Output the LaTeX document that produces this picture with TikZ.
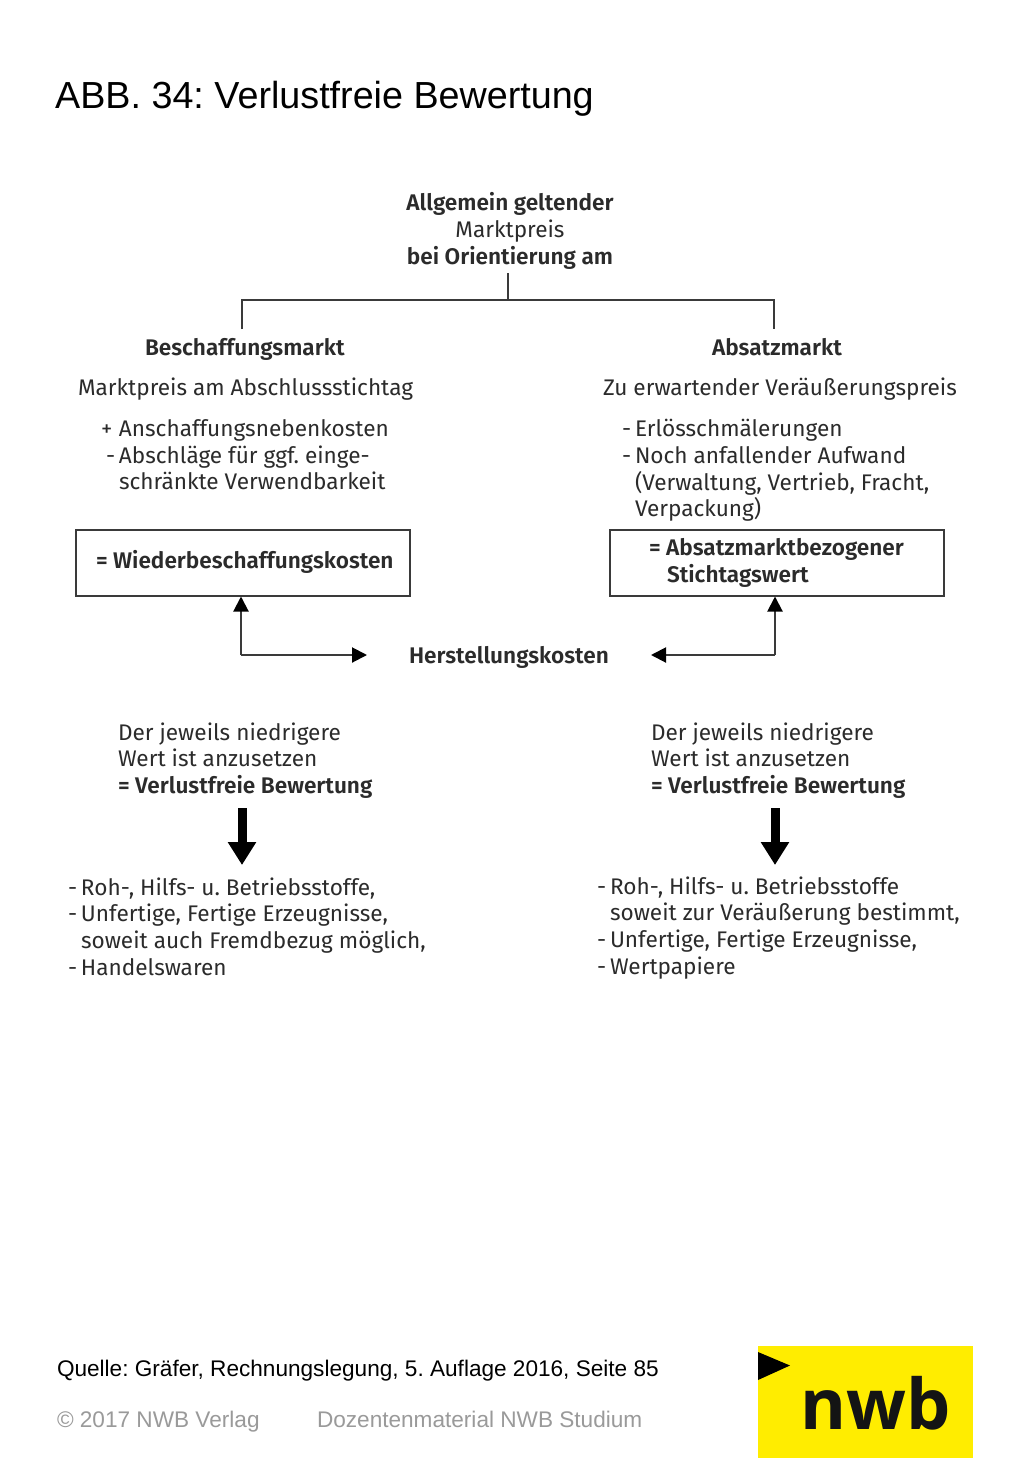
\documentclass[tikz,border=0pt]{standalone}
\usepackage{fontspec}
\setmainfont{Liberation Sans}
\newfontfamily\bodyfont[BoldFont={Fira Sans SemiBold}]{Fira Sans}
\newfontfamily\logofont{Open Sans}
\usetikzlibrary{arrows.meta}
\definecolor{inktext}{HTML}{2B2B2B}
\definecolor{linecol}{HTML}{3A3A3A}
\definecolor{footgrey}{HTML}{9A9A9A}
\definecolor{nwbyellow}{HTML}{FFED00}
\newcommand{\pre}[2]{\makebox[#1pt][l]{#2}}
\frenchspacing
\tikzset{
  x=1pt,y=-1pt,
  body/.style={inner sep=0pt,outer sep=0pt,text=inktext,align=left,anchor=north west,yshift=-3.5pt,
    font=\bodyfont\frenchspacing\fontsize{22.6}{26.7}\selectfont},
  bodyc/.style={body,align=center,anchor=north},
  foot/.style={inner sep=0pt,outer sep=0pt,anchor=base west,font=\frenchspacing\fontsize{22.6}{27}\selectfont},
  valuebox/.style={draw=linecol,line width=2pt,inner sep=0pt,minimum width=334pt,minimum height=66pt},
  rule/.style={draw=linecol,line width=2pt},
  thin arrow/.style={rule,-{Triangle[width=15pt,length=15pt,color=black,fill=black]}},
  fat arrow/.style={draw=black,line width=9pt,-{Triangle[width=27pt,length=23pt]}}
}
\begin{document}
\begin{tikzpicture}
\useasboundingbox (0,0) rectangle (1024,1479);
\fill[white] (0,0) rectangle (1024,1479);

\node[inner sep=0pt,anchor=base west,font=\frenchspacing\fontsize{37.7}{42}\selectfont] (title) at (55,109) {ABB. 34: Verlustfreie Bewertung};

\node[bodyc] (top) at (510,189) {\textbf{Allgemein geltender}\\Marktpreis\\\textbf{bei Orientierung am}};

\coordinate (hub) at (508,300);
\coordinate (dropL) at (242,329);
\coordinate (dropR) at (774,329);
\draw[rule] (508,273) -- (hub);
\draw[rule] (dropL) |- (hub) -| (dropR);

\node[body] (hL) at (145,335) {\textbf{Beschaffungsmarkt}};
\node[body] (hR) at (712,335) {\textbf{Absatzmarkt}};
\node[body] (subL) at (78,374) {Marktpreis am Abschlussstichtag};
\node[body] (subR) at (603,374) {Zu erwartender Veräußerungspreis};

\node[body] (listL) at (101,416) {\pre{18}{+}Anschaffungsnebenkosten\\\pre{5}{}\pre{13}{-}Abschläge für ggf. einge-\\\pre{18}{}schränkte Verwendbarkeit};
\node[body] (listR) at (622,416) {\pre{13}{-}Erlösschmälerungen\\\pre{13}{-}Noch anfallender Aufwand\\\pre{13}{}(Verwaltung, Vertrieb, Fracht,\\\pre{13}{}Verpackung)};

\node[valuebox] (boxL) at (243,562.5) {};
\node[valuebox] (boxR) at (777,562.5) {};
\node[body] (boxLt) at (96,547) {\textbf{= Wiederbeschaffungskosten}};
\node[body] (boxRt) at (649,535) {\textbf{= Absatzmarktbezogener}\\\pre{18}{}\textbf{Stichtagswert}};

\node[bodyc] (hk) at (509,643) {\textbf{Herstellungskosten}};
\coordinate (elbowL) at (241,655);
\coordinate (elbowR) at (775,655);
\coordinate (tipL) at (367,655);
\coordinate (tipR) at (651,655);
\draw[thin arrow] (elbowL) -- (boxL.south -| elbowL);
\draw[thin arrow] (elbowL) -- (tipL);
\draw[thin arrow] (elbowR) -- (boxR.south -| elbowR);
\draw[thin arrow] (elbowR) -- (tipR);

\node[body] (ruleL) at (118,719) {Der jeweils niedrigere\\Wert ist anzusetzen\\\textbf{= Verlustfreie Bewertung}};
\node[body] (ruleR) at (651,719) {Der jeweils niedrigere\\Wert ist anzusetzen\\\textbf{= Verlustfreie Bewertung}};

\coordinate (fatLa) at (242,808);
\coordinate (fatLb) at (242,865);
\coordinate (fatRa) at (775,808);
\coordinate (fatRb) at (775,865);
\draw[fat arrow] (fatLa) -- (fatLb);
\draw[fat arrow] (fatRa) -- (fatRb);

\node[body] (itemsL) at (68,874) {\pre{13}{-}Roh-, Hilfs- u. Betriebsstoffe,\\\pre{13}{-}Unfertige, Fertige Erzeugnisse,\\\pre{13}{}soweit auch Fremdbezug möglich,\\\pre{13}{-}Handelswaren};
\node[body] (itemsR) at (597,873) {\pre{13}{-}Roh-, Hilfs- u. Betriebsstoffe\\\pre{13}{}soweit zur Veräußerung bestimmt,\\\pre{13}{-}Unfertige, Fertige Erzeugnisse,\\\pre{13}{-}Wertpapiere};

\node[foot] (source) at (57,1376) {Quelle: Gräfer, Rechnungslegung, 5. Auflage 2016, Seite 85};
\node[foot,text=footgrey] (copy) at (57,1427) {© 2017 NWB Verlag};
\node[foot,text=footgrey] (dozent) at (317,1427) {Dozentenmaterial NWB Studium};

\fill[nwbyellow] (758,1346) rectangle (973,1458);
\fill[black] (758,1352) -- (790,1365.5) -- (758,1380) -- cycle;
\node[inner sep=0pt,anchor=base,font=\logofont\bfseries\fontsize{70}{74}\selectfont,text=black!92] (logo) at (876,1429) {nwb};
\end{tikzpicture}
\end{document}
